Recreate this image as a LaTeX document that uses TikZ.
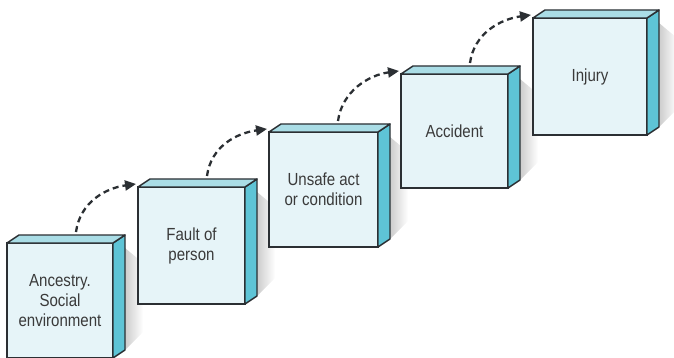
\documentclass[tikz,border=0pt]{standalone}
\usepackage{fontspec}
\newfontfamily\boxfont[FakeStretch=0.86]{Liberation Sans}
\usetikzlibrary{calc,arrows.meta,backgrounds}
\definecolor{frontc}{HTML}{E6F4F8}
\definecolor{topc}{HTML}{AADDE6}
\definecolor{sidec}{HTML}{5EC4D6}
\definecolor{edgec}{HTML}{2B2F33}
\definecolor{txtc}{HTML}{3A3A3A}
\tikzset{
  face/.style={draw=edgec, fill=frontc, line width=1.4pt, inner sep=0pt, outer sep=0pt,
    anchor=north west, align=center, font=\boxfont\fontsize{17.5}{20}\selectfont, text=txtc},
  topface/.style={draw=edgec, fill=topc, line width=1.4pt, line join=round},
  sideface/.style={draw=edgec, fill=sidec, line width=1.4pt, line join=round},
  flow/.style={draw=edgec, line width=2.3pt, dash pattern=on 6pt off 4pt,
    -{Triangle[length=11pt,width=10pt]}},
}
\newcommand\drawboxfaces[1]{%
  \begin{scope}[on background layer]
    \shade[left color=gray!40, right color=white]
      ($(#1.north east)+(12,5)$) -- ($(#1.north east)+(30,20)$)
      -- ($(#1.south east)+(30,-26)$) -- ($(#1.south east)+(12,-8)$) -- cycle;
  \end{scope}
  \path[sideface] (#1.north east) -- ($(#1.north east)+(12,-8)$)
    -- ($(#1.south east)+(12,-8)$) -- (#1.south east) -- cycle;
  \path[topface] (#1.north west) -- ($(#1.north west)+(12,-8)$)
    -- ($(#1.north east)+(12,-8)$) -- (#1.north east) -- cycle;
  \coordinate (#1s) at ($(#1.north west)+(69,-11)$);
  \coordinate (#1e) at ($(#1.north west)+(-2,-3)$);
}
\begin{document}
\begin{tikzpicture}[x=1pt,y=-1pt]
  \useasboundingbox (0,0) rectangle (674,358);
  \node[face, minimum width=106pt, minimum height=115pt] (b1) at (7,243)
    {Ancestry.\\Social\\environment};
  \drawboxfaces{b1}
  \node[face, minimum width=107pt, minimum height=117pt] (b2) at (138,187)
    {Fault of\\person};
  \drawboxfaces{b2}
  \node[face, minimum width=109pt, minimum height=115pt] (b3) at (269,132)
    {Unsafe act\\or condition};
  \drawboxfaces{b3}
  \node[face, minimum width=107pt, minimum height=114pt] (b4) at (401,74)
    {Accident};
  \drawboxfaces{b4}
  \node[face, minimum width=114pt, minimum height=117pt] (b5) at (533,18)
    {Injury};
  \drawboxfaces{b5}
  \draw[flow] (b1s) .. controls +(4,-30) and +(-30,4) .. (b2e);
  \draw[flow] (b2s) .. controls +(4,-30) and +(-30,4) .. (b3e);
  \draw[flow] (b3s) .. controls +(4,-30) and +(-30,4) .. (b4e);
  \draw[flow] (b4s) .. controls +(4,-30) and +(-30,4) .. (b5e);
\end{tikzpicture}
\end{document}
